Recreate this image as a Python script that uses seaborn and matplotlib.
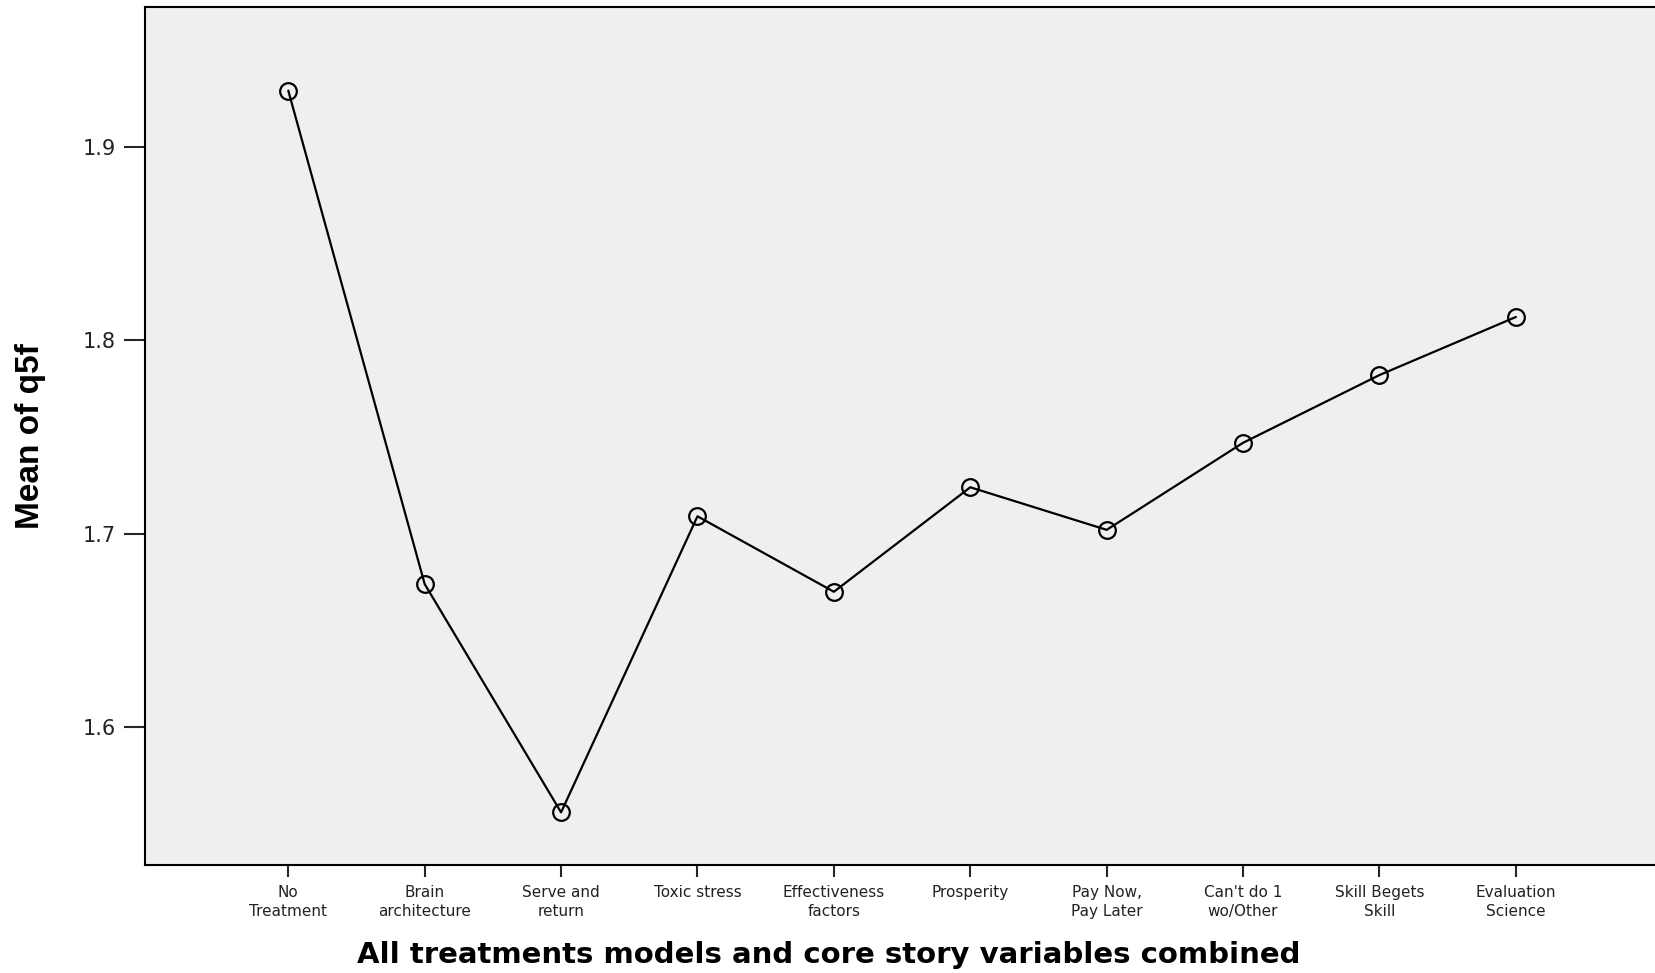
import seaborn as sns
import matplotlib.pyplot as plt
import pandas as pd

categories = ['No\nTreatment', 'Brain\narchitecture', 'Serve and\nreturn', 'Toxic stress',
              'Effectiveness\nfactors', 'Prosperity', 'Pay Now,\nPay Later', "Can't do 1\nwo/Other",
              'Skill Begets\nSkill', 'Evaluation\nScience']
means = [1.929, 1.674, 1.556, 1.709, 1.670, 1.724, 1.702, 1.747, 1.782, 1.812]
yticks = [1.6, 1.7, 1.8, 1.9]

sns.set_style('ticks', {'axes.facecolor': '#efefef', 'axes.edgecolor': 'black'})
plt.rcParams['font.family'] = ['DejaVu Sans']

df = pd.DataFrame({'group': categories, 'mean': means})

fig = plt.figure(figsize=(16.55, 9.73), dpi=100)
ax = fig.add_axes([0.0874, 0.111, 0.9126, 0.8818])
sns.lineplot(df, x='group', y='mean', ax=ax, color='black', linewidth=1.6,
             marker='o', markersize=12, markerfacecolor='none',
             markeredgecolor='black', markeredgewidth=1.6, sort=False)

ax.set_xlim(-1.053, 10.02)
ax.set_ylim(1.5288, 1.9722)
ax.set_yticks(yticks)
ax.set_yticklabels([f'{v:.1f}' for v in yticks], fontsize=15, color='#222222')
ax.set_xticks(range(len(categories)))
ax.set_xticklabels(categories, fontsize=11, color='#222222', linespacing=1.35)
ax.tick_params(axis='x', length=8.5, width=1.5, pad=6)
ax.tick_params(axis='y', length=15, width=1.5, pad=6)
for side in ['left', 'top', 'bottom']:
    ax.spines[side].set_linewidth(1.5)
ax.spines['right'].set_visible(False)

ax.set_xlabel('')
ax.set_ylabel('Mean of q5f', fontsize=24, fontweight='bold', color='black',
              family=['Liberation Sans Narrow', 'Liberation Sans', 'DejaVu Sans'], labelpad=26)
fig.text(0.501, 0.004, 'All treatments models and core story variables combined',
         ha='center', va='bottom', fontsize=21, fontweight='bold', color='black')

fig.savefig('out.png', dpi=100)
